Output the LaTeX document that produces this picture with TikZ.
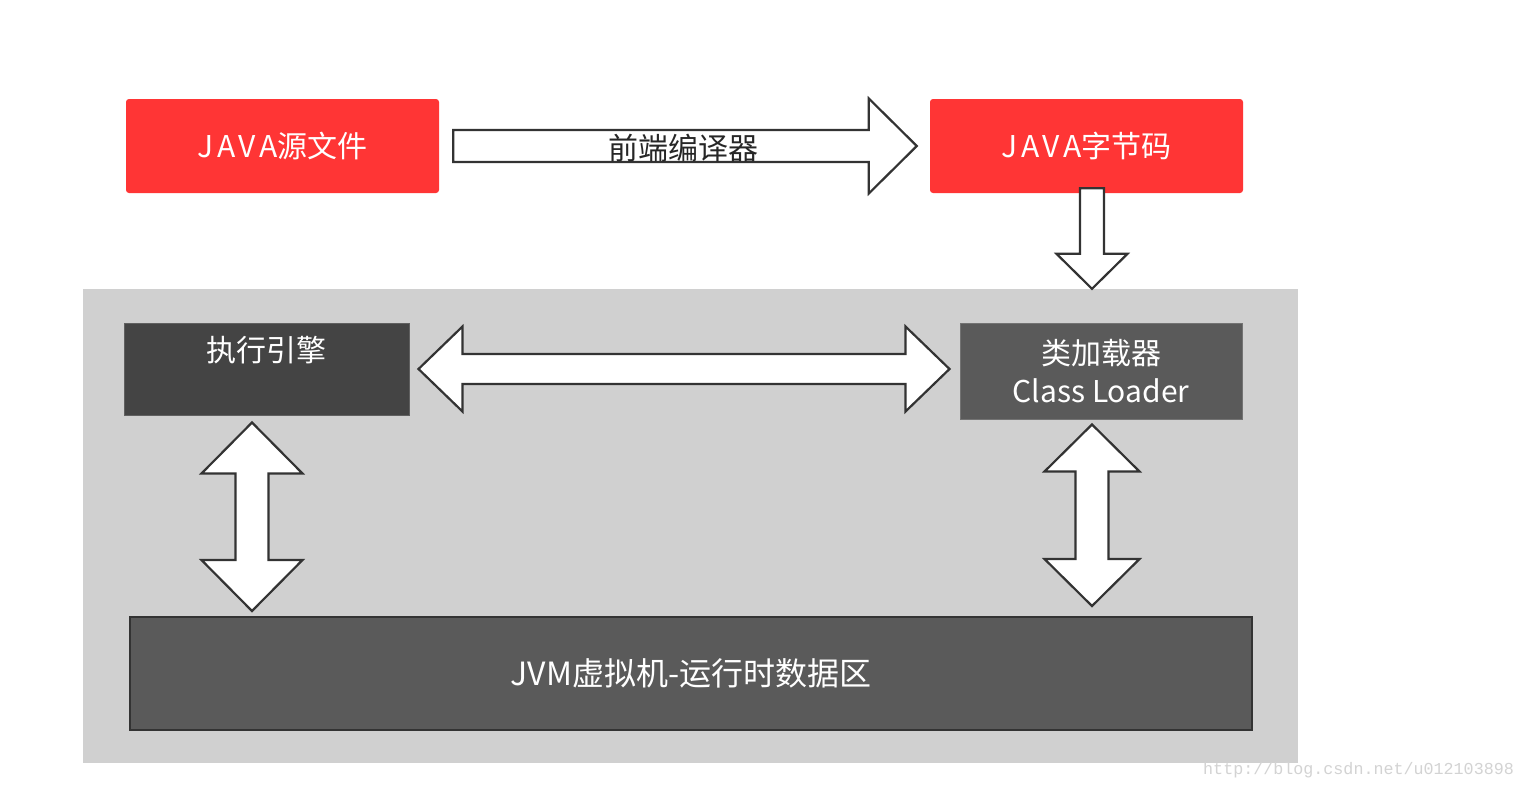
\documentclass[tikz,border=0pt]{standalone}
\usepackage{fontspec}
\usetikzlibrary{calc}
\newfontfamily\cjk{Noto Sans CJK SC}
\newfontfamily\wmfont{Liberation Mono}
\definecolor{boxred}{HTML}{FF3535}
\definecolor{bggray}{HTML}{D0D0D0}
\definecolor{darkbox}{HTML}{444444}
\definecolor{midbox}{HTML}{5A5A5A}
\definecolor{arrowline}{HTML}{333333}
\definecolor{wm}{HTML}{D3D3D3}
\tikzset{
  redbox/.style={rectangle, rounded corners=3pt, fill=boxred, inner sep=0pt,
    minimum width=313pt, minimum height=94pt, text=white, font=\cjk\fontsize{30}{34}\selectfont},
  greybox/.style={rectangle, inner sep=0pt, text=white, font=\cjk\fontsize{30}{38}\selectfont, align=center},
  blockarrow/.style={draw=arrowline, line width=2.2pt, fill=white, line join=miter},
  arrowlabel/.style={font=\cjk\fontsize{30}{34}\selectfont, text=black!85, inner sep=0pt},
}
% single block arrow: #1 start, #2 tip, #3 shaft half width, #4 head half width, #5 head length
\newcommand\sglblockarrow[5]{%
  \draw[blockarrow] let \p0=($(#2)!#5!(#1)$) in
    ($(#1)!#3!90:(#2)$) -- ($(\p0)!#3!90:(#2)$) -- ($(\p0)!#4!90:(#2)$) -- (#2)
    -- ($(\p0)!#4!-90:(#2)$) -- ($(\p0)!#3!-90:(#2)$) -- ($(#1)!#3!-90:(#2)$) -- cycle;}
% double block arrow
\newcommand\dblblockarrow[5]{%
  \draw[blockarrow] let \p1=($(#1)!#5!(#2)$), \p2=($(#2)!#5!(#1)$) in
    (#1) -- ($(\p1)!#4!90:(#2)$) -- ($(\p1)!#3!90:(#2)$) -- ($(\p2)!#3!90:(#2)$)
    -- ($(\p2)!#4!90:(#2)$) -- (#2) -- ($(\p2)!#4!-90:(#2)$) -- ($(\p2)!#3!-90:(#2)$)
    -- ($(\p1)!#3!-90:(#2)$) -- ($(\p1)!#4!-90:(#2)$) -- cycle;}
\newcommand\spaced[1]{{\addfontfeature{LetterSpace=12}#1}}
\begin{document}
\begin{tikzpicture}[x=1pt,y=-1pt]
\useasboundingbox[fill=white] (0,0) rectangle (1524,790);
% grey background
\node[rectangle, fill=bggray, inner sep=0pt, minimum width=1215pt, minimum height=474pt] (bg) at (690.5,526) {};
% top boxes
\node[redbox] (src) at (282.5,146) {\spaced{JAVA}源文件};
\node[redbox] (bc) at (1086.5,146) {\spaced{JAVA}字节码};
% inner boxes
\node[greybox, fill=darkbox, draw=darkbox!85!white, line width=1pt, minimum width=285pt, minimum height=92pt] (exe) at (266.5,369) {};
\node[text=white, font=\cjk\fontsize{30}{34}\selectfont, inner sep=0pt] (exet) at ([yshift=-28pt]exe.north) {执行引擎};
\node[greybox, fill=midbox, draw=midbox!85!white, line width=1pt, minimum width=282pt, minimum height=96pt] (cl) at (1101,371) {类加载器\\Class Loader};
\node[greybox, fill=midbox, draw=arrowline, line width=2pt, minimum width=1122pt, minimum height=113pt,
  font=\cjk\fontsize{32}{38}\selectfont] (jvm) at (691,673.5) {JVM虚拟机-运行时数据区};
% arrows
\coordinate (a1s) at ([xshift=14pt]src.east);
\coordinate (a1e) at ([xshift=-13pt]bc.west);
\sglblockarrow{a1s}{a1e}{16pt}{47.5pt}{48pt}
\node[arrowlabel] (a1t) at ($(a1s)!0.5!(a1e)+(-2,2)$) {前端编译器};
\coordinate (a2s) at ([xshift=5.5pt,yshift=5pt]bc.south);
\coordinate (a2e) at (a2s |- bg.north);
\sglblockarrow{a2s}{a2e}{12pt}{35.5pt}{35pt}
\coordinate (a3s) at ([xshift=9pt]exe.east);
\coordinate (a3e) at ([xshift=-10pt]cl.west |- a3s);
\dblblockarrow{a3s}{a3e}{15pt}{42.5pt}{44pt}
\coordinate (a4s) at ([xshift=-14.5pt,yshift=-7pt]exe.south);
\coordinate (a4e) at ($(a4s |- jvm.north)+(0,-5)$);
\dblblockarrow{a4s}{a4e}{16.5pt}{50.5pt}{51pt}
\coordinate (a5s) at ([xshift=-9pt,yshift=-5pt]cl.south);
\coordinate (a5e) at ($(a5s |- jvm.north)+(0,-10)$);
\dblblockarrow{a5s}{a5e}{16.5pt}{47.5pt}{47pt}
% watermark
\node[font=\wmfont\fontsize{16.7}{20}\selectfont, text=wm, inner sep=0pt, anchor=west] (wmk) at (1203,770) {http://blog.csdn.net/u012103898};
\end{tikzpicture}
\end{document}
